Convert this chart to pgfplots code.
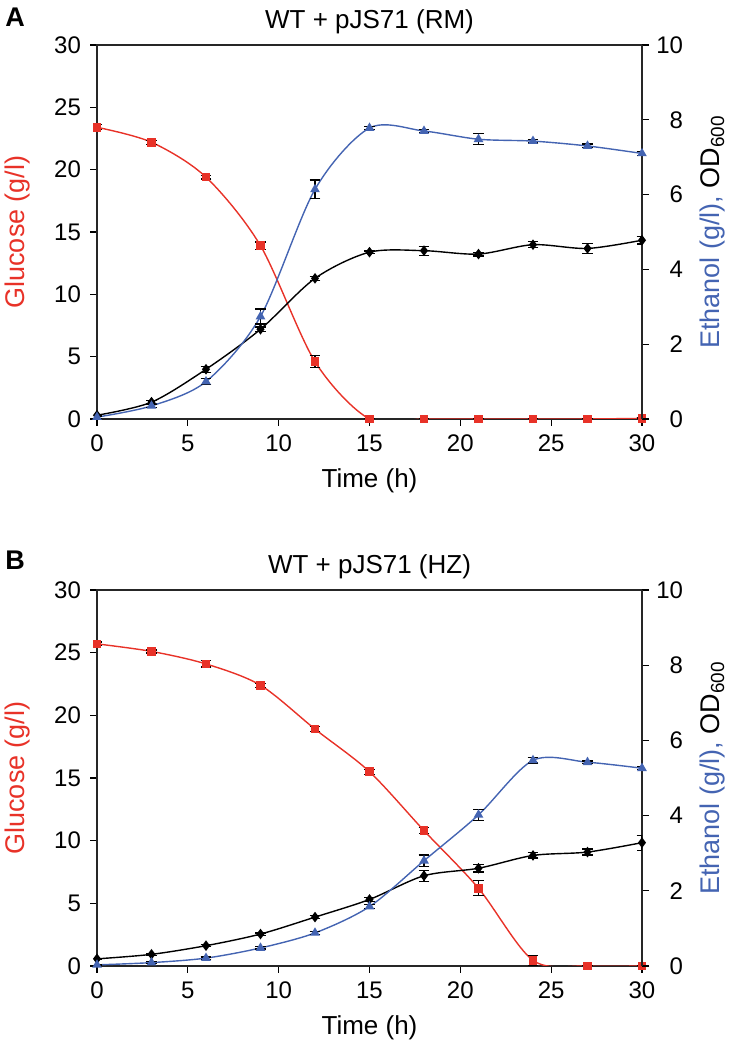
\documentclass[border=0pt]{standalone}
\usepackage{fontspec}
\setmainfont{Liberation Sans}
\usepackage{pgfplots}
\pgfplotsset{compat=1.18}
\usepackage{pgfplotstable}
\definecolor{gred}{RGB}{232,50,40}
\definecolor{eblue}{RGB}{68,100,178}

\pgfplotstableread{
t g ge e ee o oe
0 23.4 0.2 0.05 0.03 0.10 0.03
3 22.2 0.15 0.35 0.04 0.45 0.05
6 19.4 0.15 1.00 0.08 1.33 0.08
9 13.9 0.3 2.74 0.2 2.40 0.06
12 4.6 0.5 6.14 0.25 3.76 0.06
15 0.0 0.05 7.78 0.05 4.46 0.03
18 0.0 0.05 7.70 0.05 4.50 0.12
21 0.0 0.05 7.48 0.15 4.41 0.05
24 0.0 0.05 7.43 0.05 4.66 0.08
27 0.0 0.05 7.30 0.05 4.56 0.13
30 0.05 0.05 7.10 0.05 4.78 0.10
}\dataA

\pgfplotstableread{
t g ge e ee o oe
0 25.7 0.15 0.03 0.02 0.19 0.02
3 25.1 0.12 0.09 0.02 0.31 0.03
6 24.1 0.25 0.21 0.03 0.54 0.03
9 22.4 0.15 0.48 0.03 0.85 0.03
12 18.9 0.2 0.88 0.04 1.30 0.04
15 15.5 0.2 1.58 0.06 1.77 0.05
18 10.8 0.25 2.80 0.15 2.40 0.15
21 6.2 0.6 4.02 0.15 2.60 0.10
24 0.45 0.4 5.47 0.07 2.94 0.07
27 0.0 0.05 5.42 0.03 3.03 0.08
30 0.0 0.05 5.26 0.04 3.28 0.20
}\dataB

\pgfplotsset{
  panel/.style={scale only axis, width=272.5pt, height=187pt,
    xmin=0, xmax=30, xtick={0,5,...,30},
    tick align=outside, major tick length=3.5pt,
    tick style={black, line width=0.6pt},
    axis line style={black!85, line width=0.7pt},
    ticklabel style={font=\fontsize{12}{14}\selectfont},
    /pgf/number format/assume math mode=true,
  },
  leftax/.style={panel, ymin=0, ymax=30, ytick={0,5,...,30},
    xtick pos=left, ytick pos=left,
    xticklabel style={yshift=-1pt},
    yticklabel style={xshift=-1pt},
    title style={font=\fontsize{13}{15}\selectfont, yshift=-4pt},
    xlabel={Time (h)},
    xlabel style={font=\fontsize{13}{15}\selectfont, at={(axis description cs:0.5,0)}, anchor=center, yshift=-31pt},
    ylabel={\color{gred}Glucose (g/l)},
    ylabel style={font=\fontsize{13.5}{15}\selectfont, at={(axis description cs:-0.145,0.5)}, anchor=center, rotate=0},
  },
  rightax/.style={panel, ymin=0, ymax=10, ytick={0,2,...,10},
    axis y line*=right, axis x line=none,
    yticklabel style={text width=13.5pt, align=right},
    ylabel={\color{eblue}Ethanol (g/l), \color{black}OD\textsubscript{600}},
    ylabel style={font=\fontsize{13.5}{15}\selectfont, at={(axis description cs:1.13,0.5)}, anchor=center, rotate=0},
  },
  errb/.style={error bars/.cd, y dir=both, y explicit,
    error bar style={black, line width=0.6pt},
    error mark options={black, rotate=90, mark size=2.7pt, line width=0.6pt}},
  gl/.style={gred, line width=0.7pt, smooth, mark=square*, mark size=1.8pt, mark options={fill=gred, draw=gred}, errb},
  et/.style={eblue, line width=0.7pt, smooth, mark=triangle*, mark size=2.1pt, mark options={fill=eblue, draw=eblue}, errb},
  od/.style={black, line width=0.7pt, smooth, mark=diamond*, mark size=2.1pt, mark options={fill=black, draw=black}, errb},
}

\begin{document}
\begin{tikzpicture}
\useasboundingbox (0,0) rectangle (367.5pt,522pt);
\node[font=\bfseries\fontsize{13.5}{15}\selectfont] at (7.5pt,513.5pt) {A};
\node[font=\bfseries\fontsize{13.5}{15}\selectfont] at (7.5pt,242pt) {B};

% Panel A
\begin{axis}[leftax, at={(48.5pt,312.5pt)}, anchor=south west, title={WT + pJS71 (RM)}]
\addplot[gl] table[x=t, y=g, y error=ge]{\dataA};
\end{axis}
\begin{axis}[rightax, at={(48.5pt,312.5pt)}, anchor=south west]
\addplot[od] table[x=t, y=o, y error=oe]{\dataA};
\addplot[et] table[x=t, y=e, y error=ee]{\dataA};
\end{axis}

% Panel B
\begin{axis}[leftax, at={(48.5pt,39pt)}, anchor=south west, height=188pt, title={WT + pJS71 (HZ)}]
\addplot[gl] table[x=t, y=g, y error=ge]{\dataB};
\end{axis}
\begin{axis}[rightax, at={(48.5pt,39pt)}, anchor=south west, height=188pt]
\addplot[od] table[x=t, y=o, y error=oe]{\dataB};
\addplot[et] table[x=t, y=e, y error=ee]{\dataB};
\end{axis}
\end{tikzpicture}
\end{document}
